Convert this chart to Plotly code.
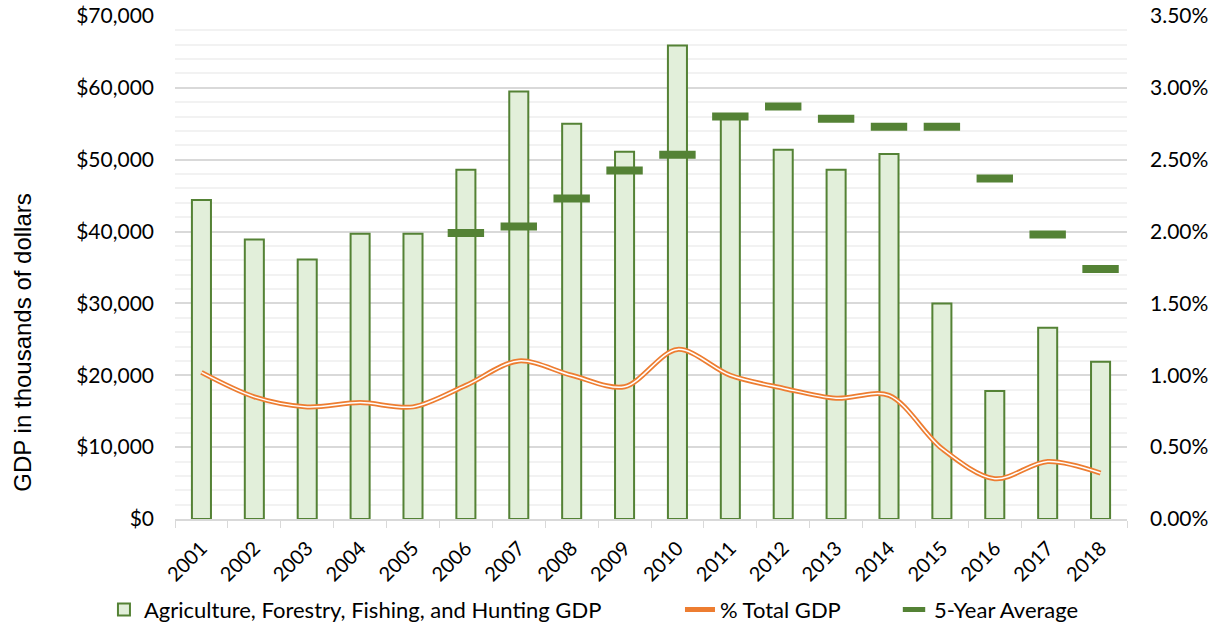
import plotly.graph_objects as go

years = [str(y) for y in range(2001, 2019)]
ag_gdp = [44400, 38900, 36100, 39700, 39700, 48600, 59500, 55000, 51100, 65900,
          55900, 51400, 48600, 50800, 30000, 17800, 26600, 21900]
pct_total = [0.0102, 0.0085, 0.0078, 0.0081, 0.0078, 0.0093, 0.0110, 0.0100, 0.0092, 0.0118,
             0.0100, 0.0091, 0.0084, 0.0086, 0.0049, 0.0028, 0.0040, 0.0032]
avg_years = [str(y) for y in range(2006, 2019)]
five_yr_avg = [39800, 40700, 44600, 48500, 50700, 56000, 57400, 55700, 54600, 54600,
               47400, 39600, 34800]

GREEN = "#548235"
FILL = "#E2EFDA"
ORANGE = "#ED7D31"
FONT = "Lato"

fig = go.Figure()
fig.add_trace(go.Bar(
    x=years, y=ag_gdp, name="Agriculture, Forestry, Fishing, and Hunting GDP",
    marker=dict(color=FILL, line=dict(color=GREEN, width=2)), width=0.36,
    yaxis="y", legend="legend"))
fig.add_trace(go.Scatter(
    x=avg_years, y=five_yr_avg, name="5-Year Average", mode="markers",
    marker=dict(symbol="line-ew", size=26, line=dict(color=GREEN, width=8), color=GREEN),
    yaxis="y", legend="legend3"))
fig.add_trace(go.Scatter(
    x=years, y=pct_total, name="% Total GDP", mode="lines",
    line=dict(color=ORANGE, width=5, shape="spline", smoothing=0.9),
    yaxis="y2", legend="legend2"))
fig.add_trace(go.Scatter(
    x=years, y=pct_total, name="% Total GDP inner", mode="lines", showlegend=False,
    line=dict(color="white", width=1.5, shape="spline", smoothing=0.9),
    yaxis="y2", hoverinfo="skip"))

leg_common = dict(orientation="h", yref="container", y=0.029, yanchor="middle",
                  xref="container", xanchor="left",
                  font=dict(family=FONT, size=22), bgcolor="rgba(0,0,0,0)")

fig.update_layout(
    width=1223, height=628,
    margin=dict(l=175, r=96, t=16, b=109),
    plot_bgcolor="white", paper_bgcolor="white",
    font=dict(family=FONT, size=20, color="#000000"),
    showlegend=True,
    legend=dict(x=0.085, **leg_common),
    legend2=dict(x=0.556, **leg_common),
    legend3=dict(x=0.731, **leg_common),
    xaxis=dict(type="category", range=[-0.5, 17.5], showline=True,
               linecolor="#D9D9D9", linewidth=1.5,
               ticks="outside", tickson="boundaries", ticklen=7, tickcolor="#D9D9D9",
               tickangle=-45, tickfont=dict(family=FONT, size=20), showgrid=False,
               ticklabelstandoff=8, automargin=False),
    yaxis=dict(range=[0, 70000], dtick=10000, tickformat="$,.0f",
               showgrid=True, gridcolor="#D9D9D9", gridwidth=1.5,
               minor=dict(dtick=2000, showgrid=True, gridcolor="#F2F2F2", gridwidth=1.5),
               zeroline=False, showline=False, ticks="", ticklabelstandoff=20,
               tickfont=dict(family=FONT, size=21), automargin=False),
    yaxis2=dict(range=[0, 0.035], dtick=0.005, tickformat=".2%", overlaying="y",
                side="right", showgrid=False, zeroline=False, showline=False,
                ticklabelstandoff=22,
                tickfont=dict(family=FONT, size=21), ticks="", automargin=False),
    annotations=[dict(text="GDP in thousands of dollars", xref="paper", yref="paper",
                      x=-0.16, y=0.35, xanchor="center", yanchor="middle",
                      textangle=-90, showarrow=False,
                      font=dict(family="Liberation Sans", size=24, color="#000000"))],
)

fig.write_html("out.html", config={"displayModeBar": False},
               post_script="document.body.style.margin='0';")
